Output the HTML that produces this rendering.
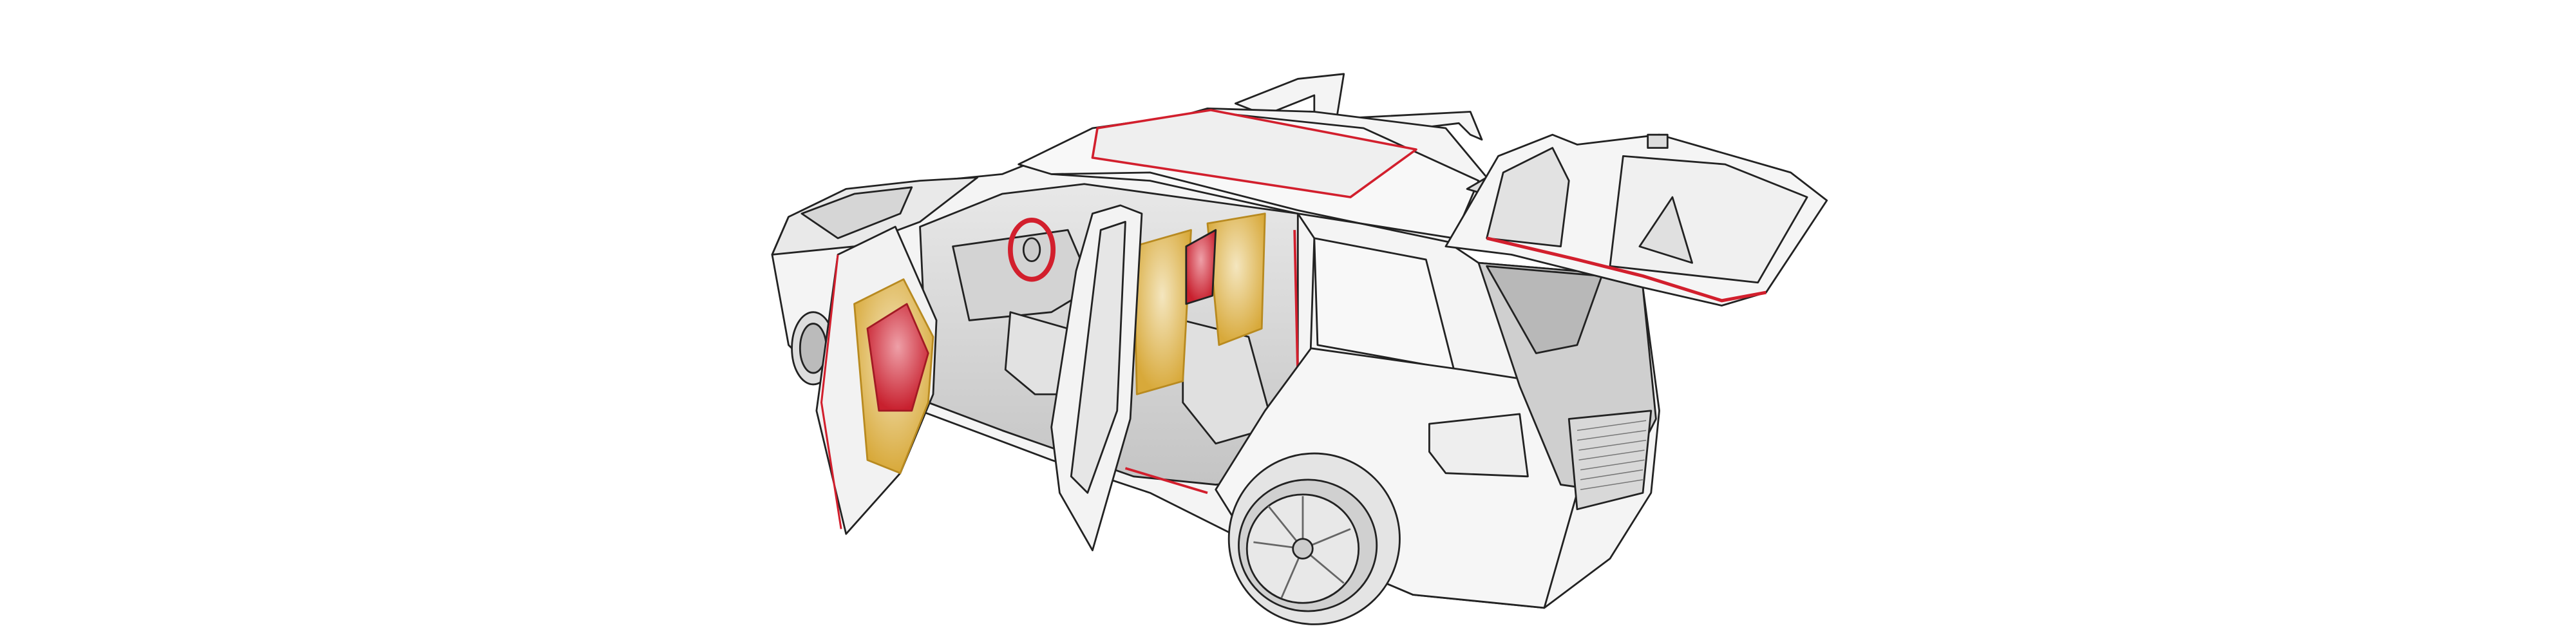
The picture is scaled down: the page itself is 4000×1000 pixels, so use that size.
<!DOCTYPE html>
<html><head><meta charset="utf-8"><style>
html,body{margin:0;padding:0;background:#fff;width:4000px;height:1000px;overflow:hidden}
svg{display:block}
</style></head><body>
<svg width="4000" height="1000" viewBox="0 0 1568 392" xmlns="http://www.w3.org/2000/svg">
<defs>
<radialGradient id="y" cx="50%" cy="40%" r="60%"><stop offset="0" stop-color="#f4e6bf"/><stop offset="1" stop-color="#d8a93a"/></radialGradient>
<radialGradient id="r" cx="50%" cy="40%" r="60%"><stop offset="0" stop-color="#eea0a8"/><stop offset="1" stop-color="#c8202e"/></radialGradient>
<linearGradient id="g" x1="0" y1="0" x2="0" y2="1"><stop offset="0" stop-color="#e8e8e8"/><stop offset="1" stop-color="#c4c4c4"/></linearGradient>
</defs>
<g stroke="#222" stroke-width="1.1" stroke-linejoin="round" fill="#f4f4f4">
<path d="M752,63 L790,48 L818,45 L812,82 L800,80 L800,58 L770,70 Z"/>
<path d="M818,72 L895,68 L902,85 L895,82 L888,75 L830,82 Z"/>
<path d="M470,155 L480,132 L520,115 L610,106 L650,90 L735,66 L800,68 L880,78 L905,108 L885,150 L900,160 L960,165 L1000,175 L1010,250 L1005,300 L980,340 L940,370 L860,362 L820,345 L760,330 L700,300 L640,280 L560,250 L510,240 L480,210 Z"/>
<path d="M620,100 L665,78 L735,68 L830,78 L900,110 L885,145 L790,130 L700,110 L640,106 Z" fill="#f8f8f8"/>
<path d="M668,78 L737,67 L862,91 L822,120 L665,96 Z" fill="#efefef" stroke="#d21f2d" stroke-width="1.4"/>
<path d="M640,106 L700,105 L790,128 L885,148" fill="none"/>
<path d="M893,115 L905,108 L903,118 Z" fill="#ddd"/>
<path d="M470,155 L480,132 L515,115 L560,110 L595,108 L560,135 L520,150 Z" fill="#e9e9e9"/>
<path d="M488,130 L520,118 L555,114 L548,130 L510,145 Z" fill="#d6d6d6"/>
<ellipse cx="495" cy="212" rx="13" ry="22" fill="#ddd"/>
<ellipse cx="495" cy="212" rx="8" ry="15" fill="#bbb"/>
<path d="M560,138 L610,118 L660,112 L790,130 L792,290 L740,295 L690,290 L610,262 L565,245 Z" fill="url(#g)"/>
<path d="M580,150 L650,140 L665,175 L640,190 L590,195 Z" fill="#d3d3d3"/>
<path d="M615,190 L650,200 L660,240 L630,240 L612,225 Z" fill="#e2e2e2"/>
<path d="M720,195 L760,205 L775,260 L740,270 L720,245 Z" fill="#e0e0e0"/>
<path d="M690,150 L725,140 L720,232 L692,240 Z" fill="url(#y)" stroke="#b88a20"/>
<path d="M735,136 L770,130 L768,200 L742,210 Z" fill="url(#y)" stroke="#b88a20"/>
<path d="M722,150 L740,140 L738,180 L722,185 Z" fill="url(#r)"/>
<ellipse cx="628" cy="152" rx="13" ry="18" fill="none" stroke="#d21f2d" stroke-width="3"/>
<ellipse cx="628" cy="152" rx="5" ry="7" fill="#ccc"/>
<path d="M790,130 L800,145 L795,300 L790,300 Z" fill="#f4f4f4"/>
<path d="M788,140 L790,230 L770,260 L755,290" fill="none" stroke="#d21f2d" stroke-width="1.5"/>
<path d="M685,285 L735,300" fill="none" stroke="#d21f2d" stroke-width="1.5"/>
<path d="M800,145 L868,158 L885,225 L802,210 Z" fill="#f8f8f8"/>
<path d="M798,212 L890,225 L935,232 L960,300 L940,370 L860,362 L820,345 L760,330 L740,298 L770,250 Z" fill="#f6f6f6"/>
<path d="M870,258 L925,252 L930,290 L880,288 L870,275 Z" fill="#eee"/>
<path d="M900,160 L960,165 L1000,175 L1008,255 L985,300 L950,295 L925,235 Z" fill="#cfcfcf"/>
<path d="M905,162 L975,168 L960,210 L935,215 Z" fill="#b8b8b8"/>
<path d="M955,255 L1005,250 L1000,300 L960,310 Z" fill="#d8d8d8"/>
<g fill="none" stroke="#777" stroke-width="0.6">
<path d="M960,262 L1002,256 M960,268 L1002,262 M961,274 L1002,268 M961,280 L1001,274 M962,286 L1001,280 M962,292 L1000,286 M962,298 L1000,292"/>
</g>
<ellipse cx="800" cy="328" rx="52" ry="52" fill="#e4e4e4"/>
<ellipse cx="796" cy="332" rx="42" ry="40" fill="#d0d0d0"/>
<ellipse cx="793" cy="334" rx="34" ry="33" fill="#e8e8e8"/>
<g fill="none" stroke="#666">
<path d="M793,334 L793,302 M793,334 L822,322 M793,334 L818,355 M793,334 L780,364 M793,334 L763,330 M793,334 L772,308"/>
</g>
<circle cx="793" cy="334" r="6" fill="#ccc"/>
<path d="M510,155 L545,138 L570,195 L568,240 L548,288 L515,325 L497,250 Z" fill="#f2f2f2"/>
<path d="M520,185 L550,170 L568,205 L565,245 L548,288 L528,280 Z" fill="url(#y)" stroke="#b88a20"/>
<path d="M528,200 L552,185 L565,215 L555,250 L535,250 Z" fill="url(#r)" stroke="#a21a24"/>
<path d="M510,155 L500,245 L512,322" fill="none" stroke="#d21f2d" stroke-width="1.2"/>
<path d="M665,130 L682,125 L695,130 L688,255 L665,335 L645,300 L640,260 L655,165 Z" fill="#f3f3f3"/>
<path d="M670,140 L685,135 L680,250 L662,300 L652,290 Z" fill="#e6e6e6"/>
<path d="M880,150 L912,95 L945,82 L960,88 L1010,82 L1090,105 L1112,122 L1075,178 L1048,186 L1000,175 L920,155 Z" fill="#f5f5f5"/>
<path d="M905,145 L915,105 L945,90 L955,110 L950,150 Z" fill="#e2e2e2"/>
<path d="M988,95 L1050,100 L1100,120 L1070,172 L980,162 Z" fill="#f0f0f0"/>
<path d="M998,150 L1018,120 L1030,160 Z" fill="#e0e0e0"/>
<path d="M905,145 L960,158 L1000,168 L1048,183 L1075,178" fill="none" stroke="#d21f2d" stroke-width="2"/>
<rect x="1003" y="82" width="12" height="8" fill="#ddd"/>
</g>
</svg>
</body></html>
